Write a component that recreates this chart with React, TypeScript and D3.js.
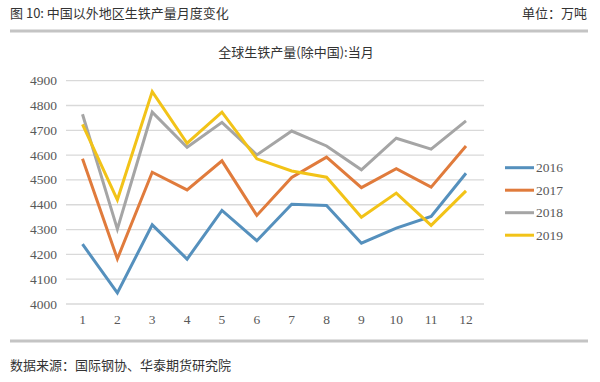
import React from "react";
import * as d3 from "d3";

const months = ["1", "2", "3", "4", "5", "6", "7", "8", "9", "10", "11", "12"];
const yTicks = [4000, 4100, 4200, 4300, 4400, 4500, 4600, 4700, 4800, 4900];
const seriesNames = ["2016", "2017", "2018", "2019"];
const v2016 = [4241, 4045, 4319, 4181, 4377, 4255, 4402, 4397, 4245, 4306, 4353, 4527];
const v2017 = [4585, 4182, 4531, 4460, 4577, 4357, 4510, 4592, 4469, 4545, 4471, 4637];
const v2018 = [4765, 4302, 4773, 4632, 4732, 4601, 4697, 4637, 4541, 4668, 4624, 4738];
const v2019 = [4724, 4420, 4856, 4648, 4773, 4585, 4536, 4511, 4350, 4447, 4317, 4456];
const colors = ["#5590bd", "#e07b3c", "#a5a5a5", "#f2c318"];

export default function App() {
  const W = 600, H = 382;
  const all = [v2016, v2017, v2018, v2019];
  const x = d3.scalePoint<string>().domain(months).range([82.5, 466]);
  const y = d3.scaleLinear().domain([4000, 4900]).range([304, 80.7]);
  const line = d3.line<number>().x((_, i) => x(months[i]) as number).y((d) => y(d));
  const serif = "'Liberation Serif', 'Times New Roman', serif";
  const cjk = "'Noto Sans CJK SC', sans-serif";
  return (
    <svg width={W} height={H} style={{ position: "absolute", left: 0, top: 0, background: "#fff" }}>
      <text x={10} y={18} fontFamily={cjk} fontSize={13} fill="#333">图 10: 中国以外地区生铁产量月度变化</text>
      <text x={587} y={18} fontFamily={cjk} fontSize={13} fill="#333" textAnchor="end">单位：万吨</text>
      <line x1={10} x2={588} y1={31} y2={31} stroke="#c4c4c4" strokeWidth={3} />
      <text x={296} y={57} fontFamily={cjk} fontSize={13} fill="#333" textAnchor="middle">全球生铁产量(除中国):当月</text>
      {yTicks.map((t) => (
        <g key={t}>
          <line x1={66} x2={484} y1={y(t)} y2={y(t)} stroke="#d9d9d9" strokeWidth={1.3} />
          <text x={57} y={y(t) + 4.5} fontFamily={serif} fontSize={13.5} fill="#595959" textAnchor="end">{t}</text>
        </g>
      ))}
      {months.map((m) => (
        <text key={m} x={x(m)} y={324} fontFamily={serif} fontSize={13.5} fill="#595959" textAnchor="middle">{m}</text>
      ))}
      {all.map((s, i) => (
        <path key={i} d={line(s) || ""} fill="none" stroke={colors[i]} strokeWidth={3} strokeLinejoin="miter" />
      ))}
      {seriesNames.map((n, i) => (
        <g key={n}>
          <line x1={505} x2={534} y1={167.7 + i * 22.5} y2={167.7 + i * 22.5} stroke={colors[i]} strokeWidth={3} />
          <text x={536} y={167.7 + i * 22.5 + 4.5} fontFamily={serif} fontSize={13.5} fill="#595959">{n}</text>
        </g>
      ))}
      <line x1={10} x2={588} y1={341} y2={341} stroke="#c4c4c4" strokeWidth={3} />
      <text x={10} y={370} fontFamily={cjk} fontSize={13} fill="#333">数据来源：国际钢协、华泰期货研究院</text>
    </svg>
  );
}
